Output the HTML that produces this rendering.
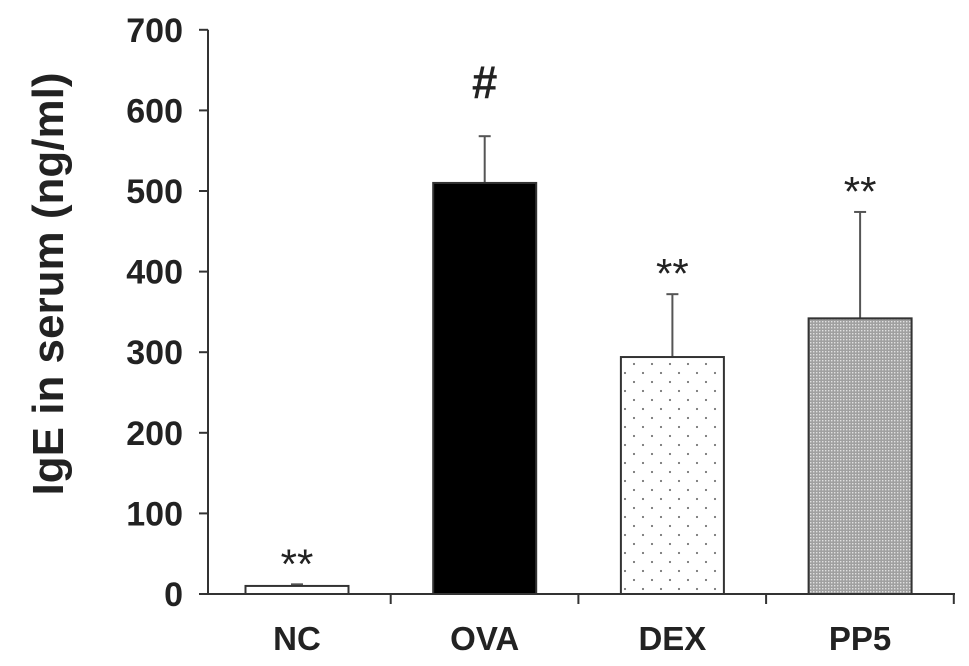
<!DOCTYPE html>
<html><head><meta charset="utf-8"><style>
html,body{margin:0;padding:0;background:#fff;}
svg{display:block;font-family:"Liberation Sans",Arial,sans-serif;}
</style></head><body>
<svg id="chart" width="969" height="666" viewBox="0 0 969 666">
<defs>
<pattern id="dots" width="18" height="18" patternUnits="userSpaceOnUse">
<rect width="18" height="18" fill="#fff"/>
<circle cx="4" cy="4" r="1.1" fill="#777"/><circle cx="13" cy="13" r="1.1" fill="#777"/>
</pattern>
<pattern id="grid" width="3" height="3" patternUnits="userSpaceOnUse">
<rect width="3" height="3" fill="#a0a0a0"/><rect width="1.4" height="1.4" fill="#e0e0e0"/>
</pattern>
</defs>
<g id="plot"></g>
<text transform="translate(63,284) rotate(-90)" text-anchor="middle" font-size="44" font-weight="bold" fill="#222">IgE in serum (ng/ml)</text>
</svg>
<script>
const categories = ["NC","OVA","DEX","PP5"];
const values = [10,510,294,342];
const errors = [2,58,78,132];
const sigLabels = ["**","#","**","**"];
const yTicks = [0,100,200,300,400,500,600,700];
const fills = ["#fff","#000","url(#dots)","url(#grid)"];

const NS="http://www.w3.org/2000/svg";
const g=document.getElementById('plot');
const x0=208, xEnd=955, y0=594, pxPer=0.806;
const y=v=>y0-v*pxPer;
const cx=i=>297+i*187.7;
const bw=103;
function mk(t,a){const e=document.createElementNS(NS,t);for(const k in a)e.setAttribute(k,a[k]);g.appendChild(e);return e;}
let e;
e=mk('line',{x1:x0,y1:y(700),x2:x0,y2:y0,stroke:'#333','stroke-width':2});


e=mk('line',{x1:x0,y1:y0,x2:xEnd,y2:y0,stroke:'#333','stroke-width':2});


yTicks.forEach(t=>{
 e=mk('line',{x1:x0-9,y1:y(t),x2:x0,y2:y(t),stroke:'#333','stroke-width':2});
 
 
 e=mk('text',{x:x0-25,y:y(t)+12,'text-anchor':'end','font-size':34,'font-weight':'bold',fill:'#222'});
 e.textContent=t;
 
 
});
for(let i=1;i<=categories.length;i++){
 const tx=cx(i)-94;
 e=mk('line',{x1:tx,y1:y0,x2:tx,y2:y0+10,stroke:'#333','stroke-width':2});
 
 
}
categories.forEach((c,i)=>{
 const top=y(values[i]), et=y(values[i]+errors[i]);
 e=mk('line',{x1:cx(i),y1:top,x2:cx(i),y2:et,stroke:'#555','stroke-width':2});
 
 
 e=mk('line',{x1:cx(i)-6,y1:et,x2:cx(i)+6,y2:et,stroke:'#555','stroke-width':2});
 
 
 e=mk('rect',{x:cx(i)-bw/2,y:top,width:bw,height:y0-top,fill:fills[i],stroke:'#333','stroke-width':2});
 
 
 const isHash=sigLabels[i]==='#';
 e=mk('text',{x:cx(i),y:isHash?et-38:et-6,'text-anchor':'middle','font-size':isHash?46:42,'font-weight':isHash?'bold':'normal',fill:'#222'});
 e.textContent=sigLabels[i];
 
 
 e=mk('text',{x:cx(i),y:650,'text-anchor':'middle','font-size':33,'font-weight':'bold',fill:'#222'});
 e.textContent=c;
 
 
});
</script>
</body></html>
